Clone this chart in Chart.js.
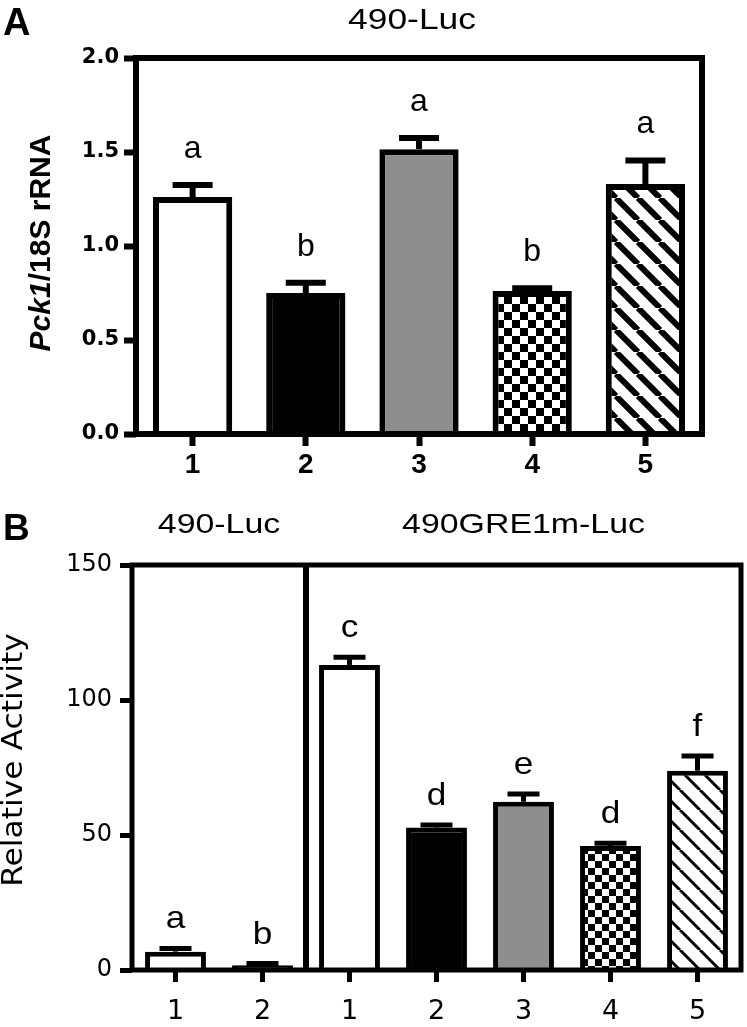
<!DOCTYPE html>
<html>
<head>
<meta charset="utf-8">
<title>Pck1 / 490-Luc</title>
<script src="https://cdn.jsdelivr.net/npm/chart.js@4.4.1/dist/chart.umd.min.js"></script>
<style>
  html, body { margin: 0; padding: 0; background: #fff; }
  #page { position: relative; width: 747px; height: 1027px; overflow: hidden; }
  .panel { position: absolute; left: 0; width: 747px; }
  #panelA { top: 0; height: 490px; }
  #panelB { top: 490px; height: 537px; }
</style>
</head>
<body>
<div id="page">
  <div class="panel" id="panelA"><canvas id="chartA"></canvas></div>
  <div class="panel" id="panelB"><canvas id="chartB"></canvas></div>
</div>
<script>
// ---- values ----
// A: Pck1 / 18S rRNA, 490-Luc
const groupsA = ['1', '2', '3', '4', '5'];
const pck1 = [1.26, 0.75, 1.515, 0.76, 1.33];
const pck1Sem = [0.065, 0.055, 0.06, 0.015, 0.125];
const lettersA = ['a', 'b', 'a', 'b', 'a'];
const yTicksA = [0, 0.5, 1.0, 1.5, 2.0];
const yTickLabelsA = ['0.0', '0.5', '1.0', '1.5', '2.0'];
const constructsA = ['490-Luc'];
const constructSizesA = [5];

// B: relative luciferase activity, 490-Luc vs 490GRE1m-Luc
const groupsB = ['1', '2', '1', '2', '3', '4', '5'];
const activity = [6.8, 1.8, 113, 52.8, 62.3, 45.9, 73.8];
const activitySem = [1.2, 0.6, 2.8, 0.9, 2.9, 1.0, 5.5];
const lettersB = ['a', 'b', 'c', 'd', 'e', 'd', 'f'];
const yTicksB = [0, 50, 100, 150];
const yTickLabelsB = ['0', '50', '100', '150'];
const constructsB = ['490-Luc', '490GRE1m-Luc'];
const constructSizesB = [2, 5];

// fill style per bar (style only)
const fillKindA = ['open', 'solid', 'grey', 'checker', 'hatch'];
const fillKindB = ['open', 'solid', 'open', 'solid', 'grey', 'checker', 'hatch'];

// ---- fills ----
function checker(cell) {
  const c = document.createElement('canvas');
  c.width = c.height = cell * 2;
  const g = c.getContext('2d');
  g.fillStyle = '#fff'; g.fillRect(0, 0, cell * 2, cell * 2);
  g.fillStyle = '#000'; g.fillRect(0, 0, cell, cell); g.fillRect(cell, cell, cell, cell);
  return g.createPattern(c, 'repeat');
}
function hatch(size, lw) {
  const c = document.createElement('canvas');
  c.width = c.height = size;
  const g = c.getContext('2d');
  g.fillStyle = '#fff'; g.fillRect(0, 0, size, size);
  g.strokeStyle = '#000'; g.lineWidth = lw;
  g.beginPath();
  for (const k of [-size, 0, size]) { g.moveTo(k, 0); g.lineTo(k + size, size); }
  g.stroke();
  return g.createPattern(c, 'repeat');
}
function fills(kinds, cell, hSize, hLw) {
  return kinds.map(k => ({
    open: '#fff', solid: '#000', grey: '#8e8e8e',
    checker: checker(cell), hatch: hatch(hSize, hLw)
  })[k]);
}

// ---- text helpers ----
function stretchText(ctx, text, x, y, font, sx, align) {
  ctx.save();
  ctx.font = font;
  ctx.textAlign = align || 'center';
  ctx.textBaseline = 'alphabetic';
  ctx.translate(x, y);
  ctx.scale(sx, 1);
  ctx.fillText(text, 0, 0);
  ctx.restore();
}
function rotatedRuns(ctx, runs, cx, cy, sx) {
  ctx.save();
  ctx.translate(cx, cy);
  ctx.rotate(-Math.PI / 2);
  ctx.scale(sx, 1);
  ctx.textBaseline = 'middle';
  ctx.textAlign = 'left';
  let w = 0;
  runs.forEach(r => { ctx.font = r.font; w += ctx.measureText(r.text).width; });
  let x = -w / 2;
  runs.forEach(r => { ctx.font = r.font; ctx.fillText(r.text, x, 0); x += ctx.measureText(r.text).width; });
  ctx.restore();
}

// frame, construct dividers, error bars, letters, titles
function decor(o) {
  return {
    id: 'decor',
    afterDatasetsDraw(chart) {
      const ctx = chart.ctx, a = chart.chartArea;
      const xs = chart.scales.x, ys = chart.scales.y;
      const bars = chart.getDatasetMeta(0).data;
      ctx.save();
      ctx.strokeStyle = '#000';
      ctx.fillStyle = '#000';

      ctx.lineWidth = o.frame;
      ctx.strokeRect(a.left, a.top, a.right - a.left, a.bottom - a.top);

      // construct groups: divider lines + headings
      let start = 0;
      o.constructs.forEach((name, g) => {
        const end = start + o.constructSizes[g] - 1;
        if (start > 0) {
          const dx = (xs.getPixelForValue(start - 1) + xs.getPixelForValue(start)) / 2;
          ctx.lineWidth = o.divider;
          ctx.beginPath(); ctx.moveTo(dx, a.top); ctx.lineTo(dx, a.bottom); ctx.stroke();
        }
        const cx = (xs.getPixelForValue(start) + xs.getPixelForValue(end)) / 2 + o.titleDx;
        stretchText(ctx, name, cx, o.titleY, o.titleFont, o.titleSx);
        start = end + 1;
      });

      // upper error arm + significance letter
      bars.forEach((bar, i) => {
        const y0 = ys.getPixelForValue(o.values[i]);
        const y1 = ys.getPixelForValue(o.values[i] + o.sem[i]);
        ctx.lineWidth = o.stem;
        ctx.beginPath(); ctx.moveTo(bar.x, y0); ctx.lineTo(bar.x, y1); ctx.stroke();
        ctx.lineWidth = o.capLine;
        ctx.beginPath(); ctx.moveTo(bar.x - o.cap / 2, y1); ctx.lineTo(bar.x + o.cap / 2, y1); ctx.stroke();
        stretchText(ctx, o.letters[i], bar.x, y1 - o.letterGap, o.letterFont, o.letterSx);
      });

      stretchText(ctx, o.panel, o.panelX, o.panelY, o.panelFont, 1, 'left');
      rotatedRuns(ctx, o.yTitle, o.yTitleX, o.yTitleY, o.yTitleSx);
      ctx.restore();
    }
  };
}

function barChart(id, o) {
  return new Chart(document.getElementById(id), {
    type: 'bar',
    data: {
      labels: o.labels,
      datasets: [{
        data: o.values,
        backgroundColor: o.fills,
        borderColor: '#000',
        borderWidth: o.border,
        borderSkipped: 'start',
        barPercentage: 0.7,
        categoryPercentage: 1
      }]
    },
    options: {
      responsive: true,
      maintainAspectRatio: false,
      animation: false,
      layout: { padding: o.padding },
      plugins: { legend: { display: false }, tooltip: { enabled: false }, title: { display: false } },
      scales: {
        x: {
          grid: { offset: false, drawOnChartArea: false, tickLength: 12, tickWidth: o.tick, tickColor: '#000' },
          border: { display: false },
          ticks: { color: '#000', font: o.xFont, padding: o.xPad, maxRotation: 0, minRotation: 0, autoSkip: false },
          afterFit: s => { s.height = o.xHeight; }
        },
        y: {
          min: o.yTicks[0],
          max: o.yTicks[o.yTicks.length - 1],
          grid: { drawOnChartArea: false, tickLength: 12, tickWidth: o.tick, tickColor: '#000' },
          border: { display: false },
          ticks: { color: '#000', font: o.yFont, padding: o.yPad, callback: (v, i) => o.yLabels[i] },
          afterBuildTicks: s => { s.ticks = o.yTicks.map(v => ({ value: v })); },
          afterFit: s => { s.width = o.yWidth; }
        }
      }
    },
    plugins: [decor(o)]
  });
}

barChart('chartA', {
  labels: groupsA, values: pck1, sem: pck1Sem, letters: lettersA,
  yTicks: yTicksA, yLabels: yTickLabelsA,
  constructs: constructsA, constructSizes: constructSizesA,
  fills: fills(fillKindA, 8, 22, 6),
  border: 6, frame: 6, divider: 6, tick: 6, stem: 6, capLine: 6, cap: 40,
  padding: { top: 58, right: 45, bottom: 0, left: 0 },
  xHeight: 56, yWidth: 136, xPad: 2, yPad: 5,
  xFont: { family: 'Liberation Sans', size: 28, weight: 'bold' },
  yFont: { family: 'DejaVu Sans', size: 21, weight: 'bold' },
  letterFont: '32px "Liberation Sans"', letterSx: 1, letterGap: 27,
  titleFont: '29px "Liberation Sans"', titleSx: 1.22, titleY: 29, titleDx: -7,
  panel: 'A', panelFont: 'bold 38px "Liberation Sans"', panelX: 3, panelY: 35,
  yTitle: [
    { text: 'Pck1', font: 'italic bold 30px "Liberation Sans"' },
    { text: '/18S rRNA', font: 'bold 30px "Liberation Sans"' }
  ],
  yTitleX: 42, yTitleY: 243, yTitleSx: 1
});

barChart('chartB', {
  labels: groupsB, values: activity, sem: activitySem, letters: lettersB,
  yTicks: yTicksB, yLabels: yTickLabelsB,
  constructs: constructsB, constructSizes: constructSizesB,
  fills: fills(fillKindB, 7, 20, 3),
  border: 5, frame: 5, divider: 6, tick: 5, stem: 5, capLine: 5, cap: 32,
  padding: { top: 75, right: 6, bottom: 0, left: 0 },
  xHeight: 57, yWidth: 132, xPad: 14, yPad: 8,
  xFont: { family: 'DejaVu Sans', size: 27 },
  yFont: { family: 'DejaVu Sans', size: 24 },
  letterFont: '32px "Liberation Sans"', letterSx: 1.1, letterGap: 20,
  titleFont: '28px "Liberation Sans"', titleSx: 1.21, titleY: 43, titleDx: 0,
  panel: 'B', panelFont: 'bold 37px "Liberation Sans"', panelX: 3, panelY: 50,
  yTitle: [{ text: 'Relative Activity', font: '28px "DejaVu Sans"' }],
  yTitleX: 15, yTitleY: 270, yTitleSx: 1.12
});
</script>
</body>
</html>
